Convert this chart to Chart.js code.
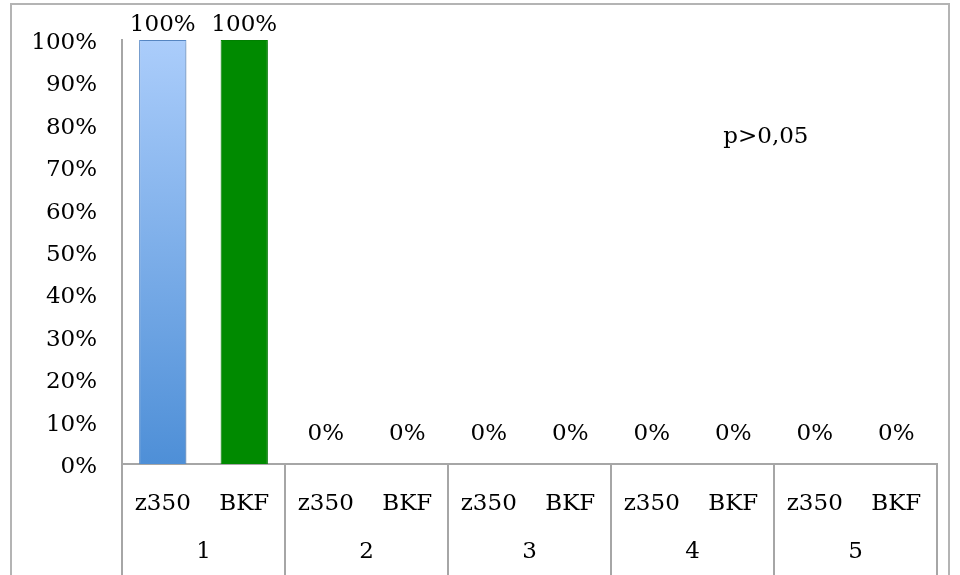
<!DOCTYPE html>
<html>
<head>
<meta charset="utf-8">
<script src="https://cdn.jsdelivr.net/npm/chart.js@4.4.0/dist/chart.umd.min.js"></script>
<style>
  html, body { margin: 0; padding: 0; background: #fff; }
  #wrap { width: 960px; height: 575px; }
</style>
</head>
<body>
<div id="wrap"><canvas id="chart" width="960" height="575"></canvas></div>
<script>
// data
var groups = ["1", "2", "3", "4", "5"];
var series = ["z350", "BKF"];
var z350Values = [100, 0, 0, 0, 0];
var bkfValues = [100, 0, 0, 0, 0];
var yTicks = [0, 10, 20, 30, 40, 50, 60, 70, 80, 90, 100];
var note = { text: "p>0,05", x: 7.4, y: 77 };

var FONT = "'DejaVu Serif', serif";
var SIZE = 23;
var LINE = "#a6a6a6";

// flatten the two series into one row of bars
var labels = [];
var values = [];
var kinds = [];
for (var i = 0; i < groups.length; i++) {
  labels.push(series[0]); values.push(z350Values[i]); kinds.push(0);
  labels.push(series[1]); values.push(bkfValues[i]); kinds.push(1);
}

function barFill(context) {
  var chart = context.chart;
  var area = chart.chartArea;
  if (kinds[context.dataIndex] === 1) return "#008a00";
  if (!area) return "#7aaee8";
  var g = chart.ctx.createLinearGradient(0, area.top, 0, area.bottom);
  g.addColorStop(0, "#abcdfb");
  g.addColorStop(1, "#4e8fd7");
  return g;
}

var framePlugin = {
  id: "frame",
  beforeDraw: function(chart) {
    var ctx = chart.ctx;
    ctx.save();
    ctx.strokeStyle = "#b4b4b4";
    ctx.lineWidth = 2;
    ctx.strokeRect(11, 4, 938, 600);
    ctx.restore();
  },
  beforeDatasetsDraw: function(chart) {
    var ctx = chart.ctx;
    ctx.save();
    ctx.shadowColor = "rgba(0,0,0,0.25)";
    ctx.shadowBlur = 5;
    ctx.shadowOffsetX = 1;
    ctx.shadowOffsetY = 1;
  },
  afterDatasetsDraw: function(chart) {
    chart.ctx.restore();
  },
  afterDraw: function(chart) {
    var ctx = chart.ctx;
    var xs = chart.scales.x;
    var ys = chart.scales.y;
    var area = chart.chartArea;
    ctx.save();
    // group separators below the axis
    ctx.strokeStyle = LINE;
    ctx.lineWidth = 2;
    for (var k = 0; k <= groups.length; k++) {
      var px = Math.round(xs.getPixelForValue(k * 2 - 0.5));
      ctx.beginPath();
      ctx.moveTo(px, area.bottom);
      ctx.lineTo(px, chart.height);
      ctx.stroke();
    }
    ctx.fillStyle = "#000";
    ctx.font = SIZE + "px " + FONT;
    ctx.textAlign = "center";
    ctx.textBaseline = "middle";
    // group labels
    for (var g = 0; g < groups.length; g++) {
      var cx = xs.getPixelForValue(g * 2 + 0.5);
      ctx.fillText(groups[g], cx, area.bottom + 88);
    }
    // value labels
    var meta = chart.getDatasetMeta(0);
    ctx.textBaseline = "bottom";
    meta.data.forEach(function(bar, idx) {
      var y = Math.max(bar.y - 18, area.top - 3);
      ctx.fillText(values[idx] + "%", bar.x, y);
    });
    // note
    ctx.textBaseline = "middle";
    ctx.fillText(note.text, xs.getPixelForValue(note.x), ys.getPixelForValue(note.y));
    ctx.restore();
  }
};

new Chart(document.getElementById("chart"), {
  type: "bar",
  data: {
    labels: labels,
    datasets: [{
      data: values,
      backgroundColor: barFill,
      borderColor: function(c) { return kinds[c.dataIndex] === 1 ? "#008a00" : "#5b8fd0"; },
      borderWidth: 1,
      barPercentage: 0.58,
      categoryPercentage: 1.0
    }]
  },
  options: {
    responsive: false,
    animation: false,
    layout: { padding: { top: 40, right: 23, left: 0, bottom: 0 } },
    plugins: {
      legend: { display: false },
      tooltip: { enabled: false }
    },
    scales: {
      x: {
        grid: { display: false, drawTicks: false },
        border: { display: true, color: LINE, width: 2 },
        ticks: { color: "#000", font: { family: FONT, size: SIZE }, padding: 26, maxRotation: 0, autoSkip: false },
        afterFit: function(scale) { scale.height = 111; }
      },
      y: {
        min: 0,
        max: 100,
        afterBuildTicks: function(scale) {
          scale.ticks = yTicks.map(function(v) { return { value: v }; });
        },
        grid: { display: false, drawTicks: false },
        border: { display: true, color: LINE, width: 2 },
        ticks: {
          color: "#000",
          font: { family: FONT, size: SIZE },
          padding: 25,
          labelOffset: 3,
          callback: function(v) { return v + "%"; }
        },
        afterFit: function(scale) { scale.width = 122; }
      }
    }
  },
  plugins: [framePlugin]
});
</script>
</body>
</html>
